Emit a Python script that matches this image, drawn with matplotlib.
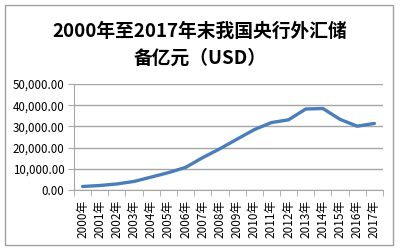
import matplotlib
matplotlib.use('Agg')
import matplotlib.pyplot as plt
from matplotlib.patches import Rectangle
from matplotlib.ticker import FuncFormatter

plt.rcParams['font.family'] = ['Noto Sans CJK SC', 'DejaVu Sans']

years = [str(y) + '年' for y in range(2000, 2018)]
reserves = [1656, 2122, 2864, 4033, 6099, 8189, 10663, 15282, 19460,
            23992, 28473, 31811, 33116, 38213, 38430, 33304, 30105, 31399]
title = '2000年至2017年末我国央行外汇储\n备亿元（USD）'

fig = plt.figure(figsize=(4, 2.5), dpi=100)
fig.patches.append(Rectangle((5 / 400, 5 / 250), 388 / 400, 240 / 250,
                             transform=fig.transFigure, fill=False,
                             edgecolor='#a0a0a0', lw=1))
ax = fig.add_axes([0.185, 0.24, 0.7725, 0.424])

x = list(range(len(years)))
ax.plot(x, reserves, color='#4a7ebb', lw=2.4, solid_capstyle='round')

ax.set_xlim(-0.5, len(years) - 0.5)
ax.set_ylim(0, 50000)
ax.set_yticks(range(0, 50001, 10000))
ax.yaxis.set_major_formatter(FuncFormatter(lambda v, p: '{:,.2f}'.format(v)))
ax.grid(axis='y', color='#a6a6a6', lw=1)
ax.set_axisbelow(True)

ax.set_xticks(x)
ax.set_xticklabels(years, rotation=90, fontsize=8.5)
ax.tick_params(axis='x', which='major', length=0, pad=7)
ax.set_xticks([i - 0.5 for i in range(len(years) + 1)], minor=True)
ax.tick_params(axis='x', which='minor', length=4, color='#a6a6a6')
ax.tick_params(axis='y', labelsize=8.3, length=4, color='#a6a6a6', pad=3)

for s in ['top', 'right']:
    ax.spines[s].set_visible(False)
for s in ['left', 'bottom']:
    ax.spines[s].set_color('#a6a6a6')

fig.text(0.5, 0.822, title, ha='center', va='center', fontsize=13.5,
         fontweight='bold', linespacing=1.5)

fig.savefig('out.png', dpi=100)
